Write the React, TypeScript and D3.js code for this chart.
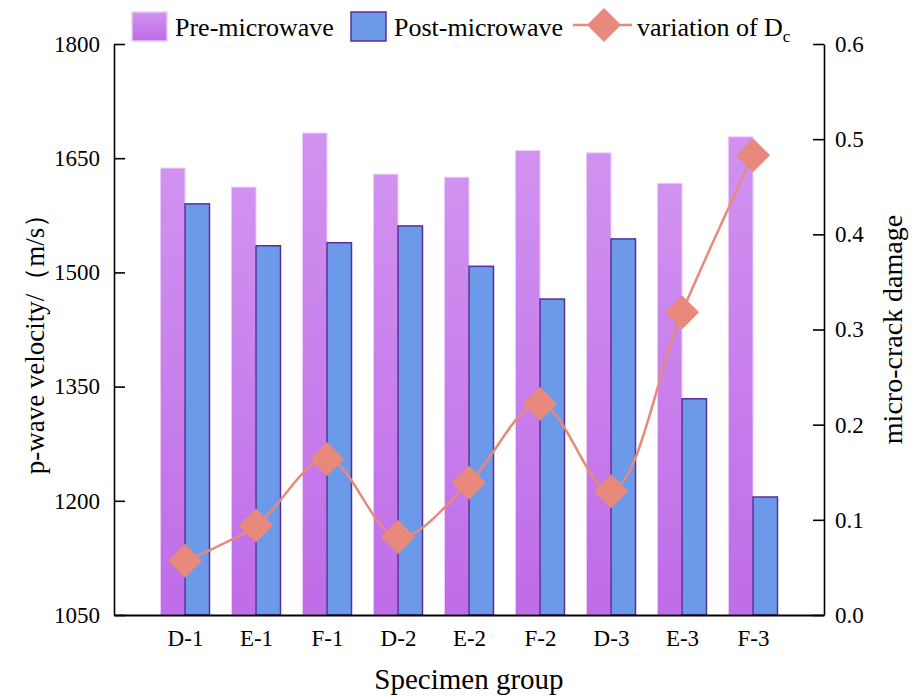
import React, { useEffect, useRef } from 'react';
import * as d3 from 'd3';

const categories = ['D-1', 'E-1', 'F-1', 'D-2', 'E-2', 'F-2', 'D-3', 'E-3', 'F-3'];
const preMicrowave = [1637, 1612, 1683, 1629, 1625, 1660, 1657, 1617, 1678];
const postMicrowave = [1590, 1535, 1539, 1561, 1508, 1465, 1544, 1334, 1205];
const damage = [0.057, 0.094, 0.164, 0.082, 0.139, 0.222, 0.130, 0.318, 0.483];
const leftTicks = [1050, 1200, 1350, 1500, 1650, 1800];
const rightTicks = [0, 0.1, 0.2, 0.3, 0.4, 0.5, 0.6];

const FONT = "'Liberation Serif', 'Times New Roman', 'DejaVu Serif', serif";
const PRE_TOP = '#d192f0';
const PRE_BOTTOM = '#bf6ce8';
const POST_FILL = '#6d9ae8';
const POST_STROKE = '#5b2d98';
const LINE_COLOR = '#e8897b';

const App = () => {
  const svgRef = useRef(null);

  useEffect(() => {
    const svg = d3.select(svgRef.current);
    svg.selectAll('*').remove();

    const W = 916;
    const H = 697;
    const margin = { top: 44, right: 92, bottom: 82, left: 114 };
    const width = W - margin.left - margin.right;
    const height = H - margin.top - margin.bottom;

    const defs = svg.append('defs');
    const grad = defs.append('linearGradient')
      .attr('id', 'preGrad')
      .attr('x1', 0).attr('y1', 0).attr('x2', 0).attr('y2', 1);
    grad.append('stop').attr('offset', '0%').attr('stop-color', PRE_TOP);
    grad.append('stop').attr('offset', '100%').attr('stop-color', PRE_BOTTOM);

    const x = d3.scalePoint().domain(categories).range([0, width]).padding(1);
    const y = d3.scaleLinear().domain([1050, 1800]).range([height, 0]);
    const y2 = d3.scaleLinear().domain([0, 0.6]).range([height, 0]);
    const bw = x.step() * 0.345;

    const g = svg.append('g').attr('transform', `translate(${margin.left},${margin.top})`);

    // bars
    g.selectAll('.pre')
      .data(categories)
      .enter()
      .append('rect')
      .attr('x', d => x(d) - bw)
      .attr('y', (d, i) => y(preMicrowave[i]))
      .attr('width', bw)
      .attr('height', (d, i) => height - y(preMicrowave[i]))
      .attr('fill', 'url(#preGrad)')
      .attr('stroke', '#ebcaf8')
      .attr('stroke-width', 1);

    g.selectAll('.post')
      .data(categories)
      .enter()
      .append('rect')
      .attr('x', d => x(d))
      .attr('y', (d, i) => y(postMicrowave[i]))
      .attr('width', bw)
      .attr('height', (d, i) => height - y(postMicrowave[i]))
      .attr('fill', POST_FILL)
      .attr('stroke', POST_STROKE)
      .attr('stroke-width', 1.5);

    // damage line
    const line = d3.line()
      .x((d, i) => x(categories[i]))
      .y(d => y2(d))
      .curve(d3.curveCatmullRom);

    g.append('path')
      .datum(damage)
      .attr('d', line)
      .attr('fill', 'none')
      .attr('stroke', LINE_COLOR)
      .attr('stroke-width', 2.5);

    const diamond = d3.symbol().type(d3.symbolSquare).size(580);
    g.selectAll('.pt')
      .data(damage)
      .enter()
      .append('path')
      .attr('d', diamond)
      .attr('transform', (d, i) => `translate(${x(categories[i])},${y2(d)}) rotate(45)`)
      .attr('fill', LINE_COLOR);

    // axes
    const styleAxis = (sel, size) => {
      sel.attr('font-family', null).attr('font-size', null);
      sel.selectAll('path, line').attr('stroke', '#000').attr('stroke-width', 1.6);
      sel.selectAll('text')
        .attr('fill', '#000')
        .attr('font-family', FONT)
        .attr('font-size', size);
    };

    const left = g.append('g')
      .call(d3.axisLeft(y).tickValues(leftTicks).tickFormat(d3.format('d'))
        .tickSizeInner(-11).tickSizeOuter(0).tickPadding(14));
    styleAxis(left, 23);

    const right = g.append('g')
      .attr('transform', `translate(${width},0)`)
      .call(d3.axisRight(y2).tickValues(rightTicks).tickFormat(d3.format('.1f'))
        .tickSizeInner(-11).tickSizeOuter(0).tickPadding(11));
    styleAxis(right, 23);

    const bottom = g.append('g')
      .attr('transform', `translate(0,${height})`)
      .call(d3.axisBottom(x).tickSize(0).tickPadding(15));
    styleAxis(bottom, 23);
    bottom.select('.domain').attr('stroke-width', 2.2);

    // axis titles
    svg.append('text')
      .attr('x', margin.left + width / 2)
      .attr('y', 689)
      .attr('text-anchor', 'middle')
      .attr('font-family', FONT)
      .attr('font-size', 29)
      .text('Specimen group');

    svg.append('text')
      .attr('transform', `translate(44,${margin.top + height / 2 + 8}) rotate(-90)`)
      .attr('text-anchor', 'middle')
      .attr('font-family', FONT)
      .attr('font-size', 27)
      .text('p-wave velocity/（m/s）');

    svg.append('text')
      .attr('transform', `translate(902,${margin.top + height / 2}) rotate(-90)`)
      .attr('text-anchor', 'middle')
      .attr('font-family', FONT)
      .attr('font-size', 28)
      .text('micro-crack damage');

    // legend
    const legend = svg.append('g');
    const legendItems = [
      { label: 'Pre-microwave', x: 132, kind: 'pre' },
      { label: 'Post-microwave', x: 351, kind: 'post' },
    ];
    legendItems.forEach(item => {
      legend.append('rect')
        .attr('x', item.x)
        .attr('y', 12)
        .attr('width', 35)
        .attr('height', 29)
        .attr('fill', item.kind === 'pre' ? 'url(#preGrad)' : POST_FILL)
        .attr('stroke', item.kind === 'pre' ? '#ebcaf8' : POST_STROKE)
        .attr('stroke-width', 1.5);
      legend.append('text')
        .attr('x', item.x + 43)
        .attr('y', 36)
        .attr('font-family', FONT)
        .attr('font-size', 26)
        .text(item.label);
    });

    legend.append('line')
      .attr('x1', 573).attr('x2', 632)
      .attr('y1', 25).attr('y2', 25)
      .attr('stroke', LINE_COLOR)
      .attr('stroke-width', 2.5);
    legend.append('path')
      .attr('d', diamond)
      .attr('transform', 'translate(604,25) rotate(45)')
      .attr('fill', LINE_COLOR);
    const lt = legend.append('text')
      .attr('x', 637)
      .attr('y', 36)
      .attr('font-family', FONT)
      .attr('font-size', 26)
      .text('variation of D');
    lt.append('tspan')
      .attr('dy', 6)
      .attr('font-size', 17)
      .text('c');
  }, []);

  return (
    <svg ref={svgRef} width={916} height={697}
      style={{ position: 'absolute', left: 0, top: 0, background: '#fff' }} />
  );
};

export default App;
